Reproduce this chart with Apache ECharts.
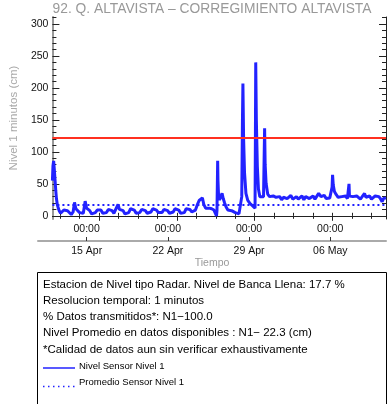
<!DOCTYPE html>
<html><head><meta charset="utf-8">
<script src="https://cdn.jsdelivr.net/npm/echarts@6/dist/echarts.min.js"></script>
<style>html,body{margin:0;padding:0;background:#fff}#c{width:388px;height:404px}</style>
</head><body><div id="c"></div>
<script>
const chartTitle = '92. Q. ALTAVISTA \u2013 CORREGIMIENTO ALTAVISTA';
const yAxisName = 'Nivel 1 minutos (cm)';
const xAxisName = 'Tiempo';
const xRange = ['04-10 19:20', '05-10 19:20'];
const tickDates = ['04-15 00:00', '04-22 00:00', '04-29 00:00', '05-06 00:00'];
const tickLabels = ['15 Apr', '22 Apr', '29 Apr', '06 May'];
const hourLabel = '00:00';
const yRange = [-5, 311];
const yTicks = [0, 50, 100, 150, 200, 250, 300];
const bankFull = 122;
const meanLevel = 17.7;
const infoLines = [
  'Estacion de Nivel tipo Radar. Nivel de Banca Llena: 17.7 %',
  'Resolucion temporal: 1 minutos',
  '% Datos transmitidos*: N1\u2212100.0',
  'Nivel Promedio en datos disponibles : N1\u2212 22.3 (cm)',
  '*Calidad de datos aun sin verificar exhaustivamente'
];
const legendNames = ['Nivel Sensor Nivel 1', 'Promedio Sensor Nivel 1'];

const times = [
'04-10 19:20','04-10 20:30','04-10 22:00','04-10 23:30','04-11 01:00','04-11 02:30','04-11 04:00','04-11 06:00','04-11 08:00','04-11 10:00',
'04-11 13:00','04-11 16:00','04-11 20:00','04-12 00:00','04-12 04:00','04-12 08:00','04-12 12:00','04-12 16:00','04-12 19:00','04-12 22:00',
'04-13 02:00','04-13 06:00','04-13 10:00','04-13 14:00','04-13 18:00','04-13 21:00','04-14 00:00','04-14 04:00','04-14 08:00','04-14 12:00',
'04-14 16:00','04-14 20:00','04-15 00:00','04-15 04:00','04-15 08:00','04-15 12:00','04-15 16:00','04-15 20:00','04-16 00:00','04-16 04:00',
'04-16 08:00','04-16 12:00','04-16 17:00','04-16 20:00','04-17 00:00','04-17 04:00','04-17 08:00','04-17 12:00','04-17 16:00','04-17 20:00',
'04-18 00:00','04-18 04:00','04-18 08:00','04-18 12:00','04-18 16:00','04-18 20:00','04-19 00:00','04-19 04:00','04-19 08:00','04-19 12:00',
'04-19 16:00','04-19 20:00','04-20 00:00','04-20 04:00','04-20 08:00','04-20 12:00','04-20 16:00','04-20 20:00','04-21 00:00','04-21 04:00',
'04-21 08:00','04-21 12:00','04-21 16:00','04-21 20:00','04-22 00:00','04-22 04:00','04-22 08:00','04-22 12:00','04-22 16:00','04-22 20:00',
'04-23 00:00','04-23 04:00','04-23 08:00','04-23 12:00','04-23 16:00','04-23 20:00','04-24 00:00','04-24 04:00','04-24 07:00','04-24 10:00',
'04-24 14:00','04-24 18:00','04-24 22:00','04-25 03:00','04-25 08:00','04-25 12:00','04-25 13:30','04-25 14:30','04-25 15:20','04-25 16:00',
'04-25 16:40','04-25 18:00','04-25 20:00','04-25 23:00','04-26 01:30','04-26 04:00','04-26 07:00','04-26 10:00','04-26 14:00','04-26 18:00',
'04-26 22:00','04-27 02:00','04-27 06:00','04-27 10:00','04-27 14:00','04-27 18:00','04-27 20:00','04-27 21:30','04-27 22:30','04-28 00:00',
'04-28 02:00','04-28 05:00','04-28 09:00','04-28 14:00','04-28 19:00','04-28 23:00','04-29 00:40','04-29 01:30','04-29 02:10','04-29 03:30',
'04-29 05:40','04-29 08:00','04-29 11:00','04-29 15:00','04-29 19:00','04-29 20:30','04-29 21:20','04-29 22:30','04-30 00:30','04-30 04:00',
'04-30 08:00','04-30 12:00','04-30 16:00','04-30 19:00','04-30 22:00','05-01 02:00','05-01 06:00','05-01 10:00','05-01 14:00','05-01 18:00',
'05-01 22:00','05-02 02:00','05-02 06:00','05-02 10:00','05-02 14:00','05-02 18:00','05-02 22:00','05-03 02:00','05-03 06:00','05-03 10:00',
'05-03 14:00','05-03 18:00','05-03 22:00','05-04 02:00','05-04 06:00','05-04 10:00','05-04 14:00','05-04 18:00','05-04 20:00','05-04 23:00',
'05-05 02:00','05-05 06:00','05-05 10:00','05-05 14:00','05-05 18:00','05-05 21:00','05-05 23:00','05-06 00:00','05-06 01:30','05-06 04:00',
'05-06 08:00','05-06 12:00','05-06 16:00','05-06 20:00','05-07 00:00','05-07 04:00','05-07 08:00','05-07 10:30','05-07 11:30','05-07 12:30',
'05-07 16:00','05-07 20:00','05-08 00:00','05-08 04:00','05-08 08:00','05-08 12:00','05-08 16:00','05-08 21:00','05-09 00:00','05-09 04:00',
'05-09 08:00','05-09 12:00','05-09 16:00','05-09 20:00','05-10 00:00','05-10 04:00','05-10 08:00','05-10 11:00','05-10 14:00','05-10 17:00',
'05-10 19:20'
];
const level = [
55,78,86,72,56,40,27,17,12,8,
4,6,9,12,8,5,2,6,21,11,
9,5,2,4,23,12,10,8,3,1,
5,9,12,9,4,2,5,10,13,8,
4,1,18,10,12,8,3,1,5,11,
13,9,4,2,5,10,12,8,4,1,
6,11,13,9,5,2,5,10,12,8,
4,1,6,11,13,9,4,2,5,11,
14,10,6,4,9,17,24,27,28,18,
12,14,12,11,9,6,0,8,50,86,
55,30,25,28,35,27,20,14,9,7,
8,6,5,4,3,5,30,150,207,120,
67,35,24,19,16,13,12,130,240,150,
77,42,30,28,30,100,137,80,51,34,
30,27,31,34,29,27,30,25,29,31,
27,29,32,26,28,30,26,29,31,25,
30,32,27,28,31,26,29,35,37,30,
28,32,27,29,28,31,45,64,48,38,
33,29,27,30,28,31,27,30,50,31,
28,30,27,31,28,26,30,35,29,27,
31,26,29,31,28,30,26,22,27,30,
28
];

function T(s) {
  const [md, hm] = s.split(' ');
  const [mo, d] = md.split('-').map(Number);
  const [h, mi] = hm.split(':').map(Number);
  return Date.UTC(2024, mo - 1, d, h, mi);
}
const xMin = T(xRange[0]), xMax = T(xRange[1]);
const majorX = tickDates.map(T);
const DAY = 86400000;
const minorX = [];
for (let k = -10; k <= 20; k++) {
  const t = majorX[0] + k * 1.75 * DAY;
  if (t > xMin && t < xMax) minorX.push(t);
}
const yMinor = [];
for (let v = 10; v < yRange[1]; v += 10) if (v % 50) yMinor.push(v);

const FONT = 'Liberation Sans';
const seriesData = times.map((t, i) => [T(t), level[i]]);

function fmtDate(v) {
  const i = majorX.indexOf(v);
  return i >= 0 ? tickLabels[i] : '';
}

const baseX = { type: 'value', min: xMin, max: xMax, splitLine: { show: false } };
const baseY = { type: 'value', min: yRange[0], max: yRange[1], splitLine: { show: false } };

const chart = echarts.init(document.getElementById('c'), null, { renderer: 'canvas' });
chart.setOption({
  animation: false,
  backgroundColor: '#fff',
  textStyle: { fontFamily: FONT },
  grid: [
    { left: 38, top: 17, width: 348, height: 202 },
    { left: 38, top: 240, width: 348, height: 1 }
  ],
  xAxis: [
    Object.assign({}, baseX, { gridIndex: 0, position: 'bottom',
      axisLine: { show: true, lineStyle: { color: '#222', width: 1 } },
      axisTick: { show: true, inside: true, length: 3, customValues: minorX, lineStyle: { color: '#222' } },
      axisLabel: { show: false } }),
    Object.assign({}, baseX, { gridIndex: 0, position: 'top',
      axisLine: { show: true, lineStyle: { color: '#222', width: 1 } },
      axisTick: { show: true, inside: true, length: 3, customValues: minorX, lineStyle: { color: '#222' } },
      axisLabel: { show: false } }),
    Object.assign({}, baseX, { gridIndex: 0, position: 'top',
      axisLine: { show: false },
      axisTick: { show: true, inside: true, length: 5, customValues: majorX, lineStyle: { color: '#222' } },
      axisLabel: { show: false } }),
    Object.assign({}, baseX, { gridIndex: 1, position: 'top',
      axisLine: { show: false },
      axisTick: { show: true, inside: false, length: 4, customValues: majorX, lineStyle: { color: '#333' } },
      axisLabel: { show: true, customValues: majorX, formatter: () => hourLabel, margin: 5,
        fontSize: 10.5, color: '#111', fontFamily: FONT } }),
    Object.assign({}, baseX, { gridIndex: 1, position: 'bottom',
      axisLine: { show: true, lineStyle: { color: '#aaa', width: 2 } },
      axisTick: { show: false },
      axisLabel: { show: true, customValues: majorX, formatter: fmtDate, margin: 5,
        fontSize: 10.5, color: '#111', fontFamily: FONT },
      name: xAxisName, nameLocation: 'middle', nameGap: 17,
      nameTextStyle: { color: '#999', fontSize: 10.5, fontFamily: FONT } })
  ],
  yAxis: [
    Object.assign({}, baseY, { gridIndex: 0, position: 'left',
      axisLine: { show: true, lineStyle: { color: '#999', width: 2 } },
      axisTick: { show: true, inside: true, length: 7, customValues: yTicks, lineStyle: { color: '#222' } },
      axisLabel: { show: true, customValues: yTicks, margin: 4, fontSize: 10.5, color: '#111', fontFamily: FONT },
      name: yAxisName, nameLocation: 'middle', nameGap: 27, nameRotate: 90,
      nameTextStyle: { color: '#aaa', fontSize: 11.5, fontFamily: FONT } }),
    Object.assign({}, baseY, { gridIndex: 0, position: 'left',
      axisLine: { show: false },
      axisTick: { show: true, inside: true, length: 4, customValues: yMinor, lineStyle: { color: '#222' } },
      axisLabel: { show: false } }),
    Object.assign({}, baseY, { gridIndex: 0, position: 'right',
      axisLine: { show: true, lineStyle: { color: '#222', width: 1 } },
      axisTick: { show: true, inside: true, length: 7, customValues: yTicks, lineStyle: { color: '#222' } },
      axisLabel: { show: false } }),
    Object.assign({}, baseY, { gridIndex: 0, position: 'right',
      axisLine: { show: false },
      axisTick: { show: true, inside: true, length: 4, customValues: yMinor, lineStyle: { color: '#222' } },
      axisLabel: { show: false } }),
    { type: 'value', gridIndex: 1, show: false, min: 0, max: 1 }
  ],
  series: [
    {
      name: legendNames[0], type: 'line', xAxisIndex: 0, yAxisIndex: 0,
      data: seriesData, showSymbol: false, symbol: 'none',
      lineStyle: { color: '#2222ff', width: 3 },
      z: 3,
      markLine: {
        silent: true, symbol: 'none', label: { show: false },
        data: [
          { yAxis: bankFull, lineStyle: { color: '#ff3020', width: 2, type: 'solid' } },
          { yAxis: meanLevel, lineStyle: { color: '#2020ff', width: 2, type: [2, 3] } }
        ]
      }
    }
  ],
  graphic: [
    { type: 'text', x: 212, y: 9, style: { text: chartTitle, fill: '#999',
      font: '13.8px "Liberation Sans"', textAlign: 'center', textVerticalAlign: 'middle' } },
    { type: 'rect', shape: { x: 37.5, y: 272.5, width: 349, height: 140 },
      style: { fill: 'none', stroke: '#000', lineWidth: 1 } },
    ...infoLines.map((t, i) => ({ type: 'text', x: 43, y: 285 + i * 16.1,
      style: { text: t, fill: '#000', font: '11.5px "Liberation Sans"', textVerticalAlign: 'middle' } })),
    { type: 'line', shape: { x1: 43, y1: 368, x2: 75, y2: 368 }, style: { stroke: '#2222ff', lineWidth: 1.5 } },
    { type: 'line', shape: { x1: 43, y1: 386.5, x2: 75, y2: 386.5 }, style: { stroke: '#2222ff', lineWidth: 1.5, lineDash: [1.5, 3.5] } },
    { type: 'text', x: 79, y: 366.5, style: { text: legendNames[0], fill: '#000', font: '9.5px "Liberation Sans"', textVerticalAlign: 'middle' } },
    { type: 'text', x: 79, y: 382.5, style: { text: legendNames[1], fill: '#000', font: '9.5px "Liberation Sans"', textVerticalAlign: 'middle' } }
  ]
});
</script>
</body></html>
